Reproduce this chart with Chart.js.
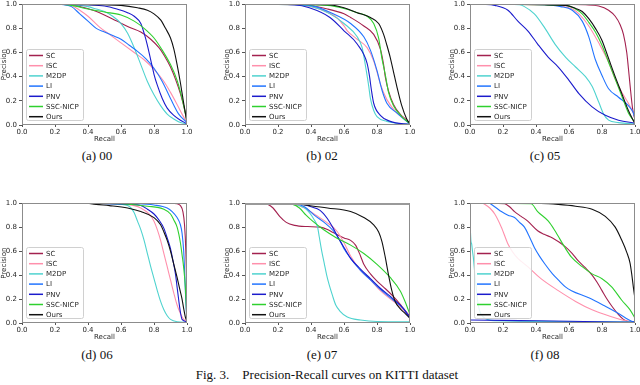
<!DOCTYPE html>
<html>
<head>
<meta charset="utf-8">
<script src="https://cdn.jsdelivr.net/npm/chart.js@4.4.1/dist/chart.umd.min.js"></script>
<style>
  html, body { margin: 0; padding: 0; background: #fff; }
  body { width: 640px; height: 385px; position: relative; overflow: hidden; }
  canvas { position: absolute; }
  .cap { position: absolute; font-family: "Liberation Serif", "Times New Roman", serif; font-size: 13px; line-height: 15px; color: #111; white-space: nowrap; transform: translateX(-50%); }
</style>
</head>
<body>
<script>
// methods and sequences
const methods = ['SC', 'ISC', 'M2DP', 'LI', 'PNV', 'SSC-NICP', 'Ours'];
const methodColors = ['#a3214f', '#ff90ac', '#4fd3cf', '#2274ff', '#1b1bcc', '#2fd02f', '#111111'];
const sequences = ['00', '02', '05', '06', '07', '08'];
const panelLetters = ['a', 'b', 'c', 'd', 'e', 'f'];
const recallTicks = [0, 0.2, 0.4, 0.6, 0.8, 1.0];
const precisionTicks = [0, 0.2, 0.4, 0.6, 0.8, 1.0];

// [recall, precision]
// seq 00
const pr00_SC = [[0.23,1],[0.3,0.995],[0.38,0.97],[0.47,0.93],[0.575,0.86],[0.65,0.81],[0.72,0.77],[0.78,0.71],[0.83,0.64],[0.86,0.58],[0.9,0.48],[0.93,0.38],[0.96,0.26],[0.98,0.16],[1.0,0.04]];
const pr00_ISC = [[0.23,1],[0.3,0.99],[0.35,0.95],[0.4,0.9],[0.47,0.81],[0.53,0.75],[0.6,0.68],[0.68,0.6],[0.74,0.54],[0.8,0.46],[0.86,0.36],[0.9,0.27],[0.94,0.17],[0.97,0.09],[1.0,0.02]];
const pr00_M2DP = [[0.23,1],[0.3,0.995],[0.4,0.98],[0.45,0.96],[0.5,0.94],[0.55,0.9],[0.6,0.84],[0.64,0.76],[0.68,0.64],[0.72,0.5],[0.76,0.36],[0.8,0.25],[0.84,0.16],[0.88,0.09],[0.92,0.05],[0.96,0.02],[1.0,0.01]];
const pr00_LI = [[0.23,1],[0.3,0.98],[0.35,0.92],[0.4,0.86],[0.45,0.8],[0.5,0.77],[0.55,0.74],[0.6,0.71],[0.65,0.66],[0.7,0.61],[0.75,0.55],[0.8,0.47],[0.85,0.36],[0.9,0.22],[0.95,0.09],[1.0,0.02]];
const pr00_PNV = [[0.23,1],[0.4,0.995],[0.5,0.985],[0.575,0.96],[0.64,0.93],[0.68,0.9],[0.72,0.84],[0.74,0.76],[0.76,0.66],[0.78,0.54],[0.8,0.42],[0.82,0.33],[0.85,0.22],[0.88,0.14],[0.92,0.08],[0.96,0.04],[1.0,0.01]];
const pr00_SSC = [[0.23,1],[0.3,0.99],[0.4,0.96],[0.5,0.935],[0.6,0.91],[0.68,0.86],[0.74,0.8],[0.8,0.72],[0.85,0.62],[0.9,0.5],[0.94,0.37],[0.97,0.22],[1.0,0.03]];
const pr00_Ours = [[0.23,1],[0.5,0.995],[0.6,0.99],[0.7,0.97],[0.76,0.95],[0.8,0.92],[0.84,0.87],[0.87,0.8],[0.9,0.72],[0.92,0.63],[0.94,0.5],[0.96,0.35],[0.98,0.18],[1.0,0.02]];
// seq 02
const pr02_SC = [[0.15,1],[0.35,0.995],[0.5,0.96],[0.6,0.92],[0.64,0.89],[0.72,0.82],[0.78,0.75],[0.82,0.63],[0.84,0.5],[0.85,0.4],[0.87,0.28],[0.9,0.17],[0.94,0.09],[0.98,0.04],[1.0,0.01]];
const pr02_ISC = [[0.15,1],[0.35,0.99],[0.45,0.96],[0.555,0.89],[0.6,0.82],[0.62,0.78],[0.68,0.71],[0.74,0.64],[0.78,0.53],[0.8,0.44],[0.82,0.34],[0.86,0.21],[0.92,0.1],[0.98,0.04],[1.0,0.01]];
const pr02_M2DP = [[0.15,1],[0.3,0.995],[0.39,0.985],[0.515,0.92],[0.6,0.84],[0.68,0.73],[0.71,0.64],[0.72,0.57],[0.735,0.45],[0.75,0.32],[0.76,0.22],[0.78,0.12],[0.8,0.07],[0.86,0.03],[0.92,0.015],[1.0,0.005]];
const pr02_LI = [[0.15,1],[0.39,0.99],[0.535,0.92],[0.64,0.84],[0.72,0.73],[0.76,0.62],[0.8,0.45],[0.83,0.29],[0.86,0.18],[0.92,0.1],[0.98,0.03],[1.0,0.01]];
const pr02_PNV = [[0.15,1],[0.3,0.995],[0.39,0.97],[0.515,0.89],[0.6,0.78],[0.68,0.67],[0.74,0.51],[0.755,0.4],[0.765,0.3],[0.78,0.18],[0.82,0.08],[0.88,0.03],[1.0,0.005]];
const pr02_SSC = [[0.15,1],[0.5,0.99],[0.6,0.965],[0.68,0.93],[0.74,0.9],[0.78,0.84],[0.81,0.72],[0.83,0.55],[0.85,0.42],[0.87,0.27],[0.9,0.16],[0.95,0.07],[1.0,0.01]];
const pr02_Ours = [[0.15,1],[0.5,0.995],[0.6,0.97],[0.68,0.93],[0.76,0.89],[0.81,0.84],[0.84,0.75],[0.86,0.66],[0.88,0.56],[0.9,0.44],[0.92,0.32],[0.95,0.16],[0.98,0.05],[1.0,0.01]];
// seq 05
const pr05_SC = [[0.23,1],[0.5,1],[0.7,0.995],[0.78,0.985],[0.84,0.95],[0.88,0.9],[0.91,0.83],[0.93,0.75],[0.95,0.6],[0.96,0.47],[0.97,0.33],[0.985,0.14],[1.0,0.04]];
const pr05_ISC = [[0.23,1],[0.45,0.995],[0.55,0.985],[0.62,0.96],[0.66,0.92],[0.72,0.82],[0.78,0.68],[0.84,0.52],[0.88,0.38],[0.92,0.27],[0.96,0.18],[1.0,0.07]];
const pr05_M2DP = [[0.2,1],[0.3,0.995],[0.33,0.98],[0.39,0.92],[0.45,0.81],[0.515,0.67],[0.58,0.56],[0.64,0.48],[0.7,0.4],[0.74,0.32],[0.78,0.19],[0.81,0.09],[0.84,0.04],[0.9,0.02],[1.0,0.01]];
const pr05_LI = [[0.23,1],[0.45,0.995],[0.55,0.98],[0.62,0.95],[0.68,0.86],[0.72,0.73],[0.76,0.54],[0.8,0.41],[0.84,0.3],[0.9,0.23],[0.96,0.16],[0.99,0.1],[1.0,0.05]];
const pr05_PNV = [[0.07,1],[0.15,0.99],[0.23,0.95],[0.29,0.86],[0.35,0.78],[0.41,0.67],[0.475,0.56],[0.535,0.48],[0.6,0.37],[0.66,0.26],[0.74,0.15],[0.82,0.08],[0.9,0.04],[1.0,0.015]];
const pr05_SSC = [[0.23,1],[0.45,0.995],[0.58,0.99],[0.64,0.96],[0.68,0.92],[0.72,0.85],[0.76,0.77],[0.8,0.66],[0.84,0.52],[0.88,0.38],[0.92,0.24],[0.96,0.1],[1.0,0.02]];
const pr05_Ours = [[0.23,1],[0.45,0.995],[0.58,0.99],[0.64,0.965],[0.68,0.94],[0.72,0.88],[0.76,0.8],[0.8,0.7],[0.84,0.55],[0.88,0.4],[0.92,0.26],[0.96,0.12],[1.0,0.01]];
// seq 06
const pr06_SC = [[0.39,1],[0.9,1],[0.94,0.995],[0.96,0.98],[0.975,0.93],[0.985,0.82],[0.993,0.6],[0.998,0.3],[1.0,0.02]];
const pr06_ISC = [[0.39,1],[0.6,0.99],[0.68,0.98],[0.72,0.96],[0.77,0.91],[0.8,0.85],[0.82,0.78],[0.84,0.69],[0.86,0.58],[0.88,0.47],[0.9,0.36],[0.92,0.25],[0.94,0.15],[0.96,0.08],[0.98,0.03],[1.0,0.01]];
const pr06_M2DP = [[0.39,1],[0.6,0.99],[0.64,0.98],[0.66,0.96],[0.68,0.92],[0.7,0.85],[0.72,0.78],[0.74,0.69],[0.76,0.58],[0.78,0.47],[0.8,0.37],[0.82,0.27],[0.84,0.18],[0.86,0.11],[0.88,0.06],[0.9,0.03],[0.94,0.01],[1.0,0.005]];
const pr06_LI = [[0.39,1],[0.7,0.995],[0.8,0.985],[0.88,0.96],[0.91,0.93],[0.94,0.88],[0.96,0.82],[0.97,0.75],[0.98,0.6],[0.985,0.45],[0.99,0.27],[0.995,0.12],[1.0,0.02]];
const pr06_PNV = [[0.39,1],[0.65,0.99],[0.72,0.98],[0.76,0.95],[0.8,0.91],[0.83,0.86],[0.86,0.79],[0.88,0.71],[0.9,0.62],[0.915,0.52],[0.93,0.41],[0.94,0.3],[0.95,0.19],[0.96,0.09],[0.97,0.03],[1.0,0.01]];
const pr06_SSC = [[0.39,1],[0.6,0.995],[0.76,0.975],[0.86,0.95],[0.9,0.91],[0.92,0.86],[0.94,0.8],[0.96,0.67],[0.97,0.57],[0.98,0.46],[0.99,0.3],[0.995,0.15],[1.0,0.02]];
const pr06_Ours = [[0.4,1],[0.45,0.99],[0.53,0.98],[0.64,0.96],[0.72,0.93],[0.8,0.88],[0.84,0.82],[0.86,0.76],[0.88,0.69],[0.9,0.6],[0.92,0.49],[0.94,0.38],[0.96,0.26],[0.97,0.2],[0.98,0.12],[0.99,0.05],[1.0,0.01]];
// seq 07
const pr07_SC = [[0.11,1],[0.14,0.99],[0.17,0.96],[0.21,0.89],[0.25,0.84],[0.3,0.815],[0.38,0.805],[0.455,0.8],[0.5,0.78],[0.535,0.755],[0.6,0.71],[0.64,0.69],[0.67,0.65],[0.7,0.56],[0.72,0.49],[0.76,0.41],[0.8,0.35],[0.84,0.3],[0.9,0.22],[0.95,0.14],[1.0,0.055]];
const pr07_ISC = [[0.2,1],[0.3,0.99],[0.36,0.96],[0.43,0.9],[0.495,0.84],[0.555,0.77],[0.6,0.67],[0.64,0.56],[0.7,0.44],[0.76,0.36],[0.82,0.27],[0.9,0.18],[0.96,0.11],[1.0,0.04]];
const pr07_M2DP = [[0.2,1],[0.3,0.99],[0.37,0.95],[0.42,0.86],[0.44,0.8],[0.45,0.72],[0.465,0.6],[0.48,0.5],[0.495,0.4],[0.51,0.32],[0.53,0.23],[0.55,0.15],[0.575,0.1],[0.62,0.05],[0.7,0.025],[0.8,0.012],[1.0,0.01]];
const pr07_LI = [[0.2,1],[0.3,0.995],[0.36,0.97],[0.42,0.9],[0.48,0.84],[0.535,0.77],[0.575,0.69],[0.6,0.62],[0.64,0.54],[0.7,0.44],[0.76,0.36],[0.82,0.28],[0.9,0.19],[0.96,0.12],[1.0,0.04]];
const pr07_PNV = [[0.2,1],[0.33,0.995],[0.4,0.97],[0.455,0.94],[0.5,0.87],[0.535,0.79],[0.57,0.7],[0.6,0.63],[0.64,0.54],[0.7,0.45],[0.76,0.37],[0.82,0.29],[0.9,0.2],[0.96,0.12],[1.0,0.04]];
const pr07_SSC = [[0.2,1],[0.29,0.99],[0.33,0.96],[0.37,0.9],[0.41,0.85],[0.475,0.78],[0.555,0.71],[0.64,0.65],[0.72,0.58],[0.8,0.49],[0.88,0.38],[0.94,0.27],[0.97,0.18],[1.0,0.07]];
const pr07_Ours = [[0.11,1],[0.3,0.995],[0.39,0.98],[0.5,0.96],[0.64,0.93],[0.72,0.88],[0.78,0.82],[0.81,0.76],[0.83,0.68],[0.85,0.55],[0.87,0.4],[0.89,0.27],[0.91,0.18],[0.94,0.12],[0.97,0.08],[1.0,0.04]];
// seq 08
const pr08_SC = [[0.1,1],[0.21,0.995],[0.24,0.97],[0.27,0.93],[0.31,0.89],[0.35,0.85],[0.41,0.77],[0.45,0.74],[0.5,0.71],[0.575,0.64],[0.62,0.58],[0.655,0.52],[0.7,0.46],[0.74,0.4],[0.77,0.34],[0.8,0.27],[0.83,0.2],[0.86,0.14],[0.9,0.07],[0.93,0.03],[0.96,0.01]];
const pr08_ISC = [[0.08,1],[0.12,0.96],[0.15,0.91],[0.19,0.8],[0.23,0.66],[0.26,0.59],[0.29,0.54],[0.35,0.47],[0.43,0.37],[0.535,0.27],[0.64,0.18],[0.74,0.11],[0.84,0.06],[0.94,0.02],[1.0,0.01]];
const pr08_M2DP = [[0.003,0.75],[0.006,0.68],[0.01,0.66],[0.015,0.6],[0.02,0.55],[0.03,0.4],[0.05,0.15],[0.08,0.05],[0.15,0.02],[1.0,0.01]];
const pr08_LI = [[0.12,1],[0.16,0.96],[0.19,0.93],[0.23,0.9],[0.27,0.88],[0.3,0.84],[0.33,0.8],[0.36,0.72],[0.39,0.63],[0.42,0.56],[0.455,0.49],[0.5,0.41],[0.535,0.36],[0.58,0.3],[0.615,0.27],[0.72,0.21],[0.82,0.14],[0.9,0.08],[0.98,0.015],[1.0,0.01]];
const pr08_PNV = [[0.0,0.025],[0.3,0.02],[0.6,0.015],[1.0,0.005]];
const pr08_SSC = [[0.1,1],[0.37,0.995],[0.41,0.93],[0.475,0.85],[0.515,0.77],[0.575,0.63],[0.615,0.55],[0.68,0.47],[0.74,0.41],[0.8,0.37],[0.86,0.3],[0.92,0.19],[0.97,0.11],[1.0,0.04]];
const pr08_Ours = [[0.15,1],[0.43,0.998],[0.535,0.99],[0.64,0.975],[0.74,0.95],[0.82,0.89],[0.88,0.8],[0.92,0.69],[0.95,0.59],[0.97,0.5],[0.98,0.41],[0.99,0.3],[1.0,0.2]];

const curves = [
  [pr00_SC, pr00_ISC, pr00_M2DP, pr00_LI, pr00_PNV, pr00_SSC, pr00_Ours],
  [pr02_SC, pr02_ISC, pr02_M2DP, pr02_LI, pr02_PNV, pr02_SSC, pr02_Ours],
  [pr05_SC, pr05_ISC, pr05_M2DP, pr05_LI, pr05_PNV, pr05_SSC, pr05_Ours],
  [pr06_SC, pr06_ISC, pr06_M2DP, pr06_LI, pr06_PNV, pr06_SSC, pr06_Ours],
  [pr07_SC, pr07_ISC, pr07_M2DP, pr07_LI, pr07_PNV, pr07_SSC, pr07_Ours],
  [pr08_SC, pr08_ISC, pr08_M2DP, pr08_LI, pr08_PNV, pr08_SSC, pr08_Ours]
];

// layout: plot area of each panel in page pixels
const panelBoxes = [
  {l: 22, t: 3, r: 187, b: 125}, {l: 245, t: 3, r: 410, b: 125}, {l: 470, t: 3, r: 635, b: 125},
  {l: 22, t: 202, r: 187, b: 323}, {l: 245, t: 202, r: 410, b: 323}, {l: 470, t: 202, r: 635, b: 323}
];
const capCenters = [97, 322, 545, 97, 322, 545];
const capTops = [148, 148, 148, 347, 347, 347];
const YW = 22, XH = 18, PT = 5, PR = 10;
const tickFont = {family: 'DejaVu Sans', size: 7};

const framePlugin = {
  id: 'frameLegend',
  afterDatasetsDraw(chart) {
    const ctx = chart.ctx, a = chart.chartArea;
    const L = Math.round(a.left) + 0.5, T = Math.round(a.top) + 0.5;
    const R = Math.round(a.right) - 0.5, B = Math.round(a.bottom) - 0.5;
    ctx.save();
    ctx.strokeStyle = '#8c8c8c';
    ctx.lineWidth = 1;
    ctx.strokeRect(L, T, R - L, B - T);
    if (chart.options.plugins.frameLegend.thickTop) {
      ctx.strokeStyle = '#9a9a9a';
      ctx.lineWidth = 2;
      ctx.beginPath(); ctx.moveTo(L, T + 0.5); ctx.lineTo(R, T + 0.5); ctx.stroke();
    }
    // legend box, lower left inside the axes
    const rowH = 10.2, boxW = 57, boxH = 71;
    const x0 = Math.round(a.left) + 4, y0 = Math.round(a.bottom) - 5 - boxH;
    ctx.fillStyle = 'rgba(255,255,255,0.85)';
    ctx.strokeStyle = '#d0d0d0';
    ctx.lineWidth = 1;
    ctx.beginPath();
    ctx.roundRect(x0 + 0.5, y0 + 0.5, boxW, boxH, 2);
    ctx.fill(); ctx.stroke();
    ctx.font = '7px "DejaVu Sans"';
    ctx.textBaseline = 'middle';
    methods.forEach((m, k) => {
      const y = y0 + 6.5 + k * rowH;
      ctx.strokeStyle = methodColors[k];
      ctx.lineWidth = 1.5;
      ctx.beginPath(); ctx.moveTo(x0 + 3, y); ctx.lineTo(x0 + 17, y); ctx.stroke();
      ctx.fillStyle = '#262626';
      ctx.fillText(m, x0 + 20, y + 0.5);
    });
    ctx.restore();
  }
};

panelBoxes.forEach((box, i) => {
  const W = box.r - box.l + YW + PR, H = box.b - box.t + PT + XH;
  const cv = document.createElement('canvas');
  cv.width = W; cv.height = H;
  cv.style.left = (box.l - YW) + 'px';
  cv.style.top = (box.t - PT) + 'px';
  cv.style.width = W + 'px'; cv.style.height = H + 'px';
  document.body.appendChild(cv);

  new Chart(cv.getContext('2d'), {
    type: 'line',
    data: {
      datasets: methods.map((m, k) => ({
        label: m,
        data: curves[i][k].map(p => ({x: p[0], y: p[1]})),
        borderColor: methodColors[k],
        borderWidth: 1.1,
        pointRadius: 0,
        fill: false,
        cubicInterpolationMode: 'monotone',
        order: methods.length - k
      }))
    },
    options: {
      responsive: false,
      animation: false,
      devicePixelRatio: 1,
      layout: {padding: {top: PT, right: PR, left: 0, bottom: 0}},
      plugins: {legend: {display: false}, tooltip: {enabled: false}, frameLegend: {thickTop: i === 4}},
      scales: {
        x: {
          type: 'linear', min: 0, max: 1,
          afterBuildTicks: s => { s.ticks = recallTicks.map(v => ({value: v})); },
          afterFit: s => { s.height = XH; },
          ticks: {font: tickFont, color: '#262626', padding: 1, maxRotation: 0, autoSkip: false, callback: v => v.toFixed(1)},
          grid: {drawOnChartArea: false, tickLength: 2, color: '#555'},
          border: {display: false},
          title: {display: true, text: 'Recall', font: tickFont, color: '#262626', padding: 0}
        },
        y: {
          type: 'linear', min: 0, max: 1,
          afterBuildTicks: s => { s.ticks = precisionTicks.map(v => ({value: v})); },
          afterFit: s => { s.width = YW; },
          ticks: {font: tickFont, color: '#262626', padding: 2, autoSkip: false, callback: v => v.toFixed(1)},
          grid: {drawOnChartArea: false, tickLength: 3, color: '#555'},
          border: {display: false},
          title: {display: true, text: 'Precision', font: tickFont, color: '#262626', padding: 0}
        }
      }
    },
    plugins: [framePlugin]
  });

  const cap = document.createElement('div');
  cap.className = 'cap';
  cap.style.left = capCenters[i] + 'px';
  cap.style.top = capTops[i] + 'px';
  cap.textContent = '(' + panelLetters[i] + ') ' + sequences[i];
  document.body.appendChild(cap);
});

const fig = document.createElement('div');
fig.className = 'cap';
fig.style.left = '327px';
fig.style.top = '367px';
fig.innerHTML = 'Fig. 3.&emsp;Precision-Recall curves on KITTI dataset';
document.body.appendChild(fig);
</script>
</body>
</html>
